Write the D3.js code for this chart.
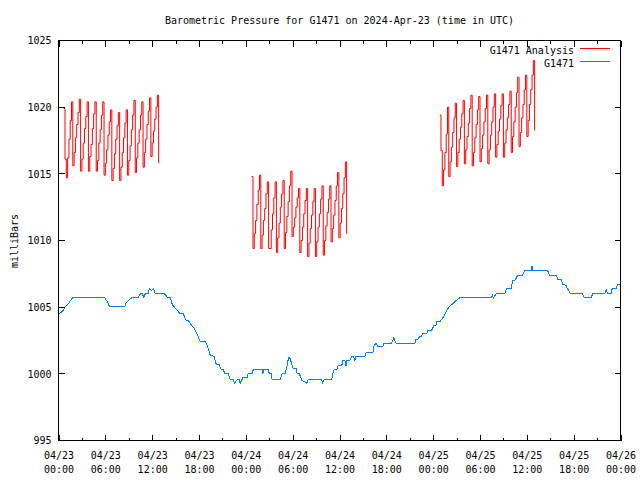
<!DOCTYPE html>
<html><head><meta charset="utf-8">
<script src="https://cdn.jsdelivr.net/npm/d3@7"></script>
<style>
body{margin:0;background:#fff}
text{font-family:"DejaVu Sans Mono","Liberation Mono",monospace;font-size:10px;fill:#000}
</style>
</head><body><svg id="c" width="640" height="480"></svg>
<script>
// ---------- data ----------
const chartTitle = "Barometric Pressure for G1471 on 2024-Apr-23 (time in UTC)";
const yAxisLabel = "milliBars";
const seriesNames = ["G1471 Analysis", "G1471"];
const yTickValues = [995, 1000, 1005, 1010, 1015, 1020, 1025];
const xDomain = ["2024-04-23T00:00:00Z", "2024-04-26T00:00:00Z"];

// Analysis runs: start time of each run and its values every 10 minutes
const analysisStarts = ["2024-04-23T00:40:00Z", "2024-04-24T00:45:00Z", "2024-04-25T00:50:00Z"];
const analysisStepMinutes = 10;
const analysisRun1 = [
  1019.9, 1016.1, 1014.7, 1016.2, 1017.6, 1019.0, 1020.4,
  1015.6, 1016.6, 1017.7, 1018.7, 1019.6, 1020.6,
  1015.2, 1016.1, 1017.3, 1018.4, 1019.3, 1020.4,
  1015.2, 1016.3, 1017.2, 1018.4, 1019.5, 1020.4,
  1015.2, 1016.0, 1017.3, 1018.3, 1019.4, 1020.4,
  1014.9, 1015.8, 1016.8, 1017.9, 1018.9, 1019.8,
  1014.5, 1015.4, 1016.5, 1017.6, 1018.6, 1019.6,
  1014.5, 1015.5, 1016.6, 1017.7, 1018.8, 1019.8,
  1014.9, 1016.0, 1017.1, 1018.3, 1019.4, 1020.5,
  1015.1, 1016.2, 1017.3, 1018.3, 1019.4, 1020.4,
  1015.5, 1016.6, 1017.6, 1018.7, 1019.7, 1020.7,
  1016.3, 1017.3, 1018.2, 1019.1, 1020.0, 1020.9,
  1015.8
];
const analysisRun2 = [
  1014.8, 1009.4, 1010.5, 1011.5, 1012.7, 1013.8, 1014.9,
  1009.4, 1010.4, 1011.5, 1012.4, 1013.5, 1014.4,
  1009.4, 1009.4, 1010.8, 1012.0, 1013.2, 1014.4,
  1009.1, 1010.2, 1011.3, 1012.5, 1013.5, 1014.5,
  1009.4, 1010.6, 1011.8, 1012.9, 1014.1, 1015.2,
  1010.3, 1011.0, 1011.7, 1012.5, 1013.2, 1013.9,
  1009.1, 1010.0, 1011.0, 1012.0, 1013.0, 1013.9,
  1008.8, 1009.8, 1010.9, 1011.9, 1012.9, 1013.9,
  1008.8, 1009.9, 1011.0, 1012.0, 1013.1, 1014.1,
  1008.9, 1010.0, 1011.1, 1012.1, 1013.1, 1014.1,
  1009.9, 1010.9, 1011.9, 1013.0, 1014.1, 1015.1,
  1010.2, 1011.3, 1012.4, 1013.5, 1014.7, 1015.9,
  1010.5
];
const analysisRun3 = [
  1019.4, 1016.75, 1014.1, 1015.3, 1016.6, 1018.0, 1020.0,
  1014.8, 1015.9, 1017.0, 1018.1, 1019.2, 1020.3,
  1015.55, 1016.6, 1017.6, 1018.5, 1019.5, 1020.5,
  1015.75, 1016.8, 1017.8, 1018.8, 1019.9, 1020.9,
  1015.6, 1016.6, 1017.7, 1018.7, 1019.8, 1020.8,
  1015.9, 1016.9, 1017.9, 1018.9, 1019.9, 1020.9,
  1015.75, 1016.8, 1017.9, 1018.9, 1020.0, 1021.0,
  1016.25, 1017.2, 1018.2, 1019.1, 1020.1, 1021.0,
  1016.25, 1017.3, 1018.3, 1019.2, 1020.2, 1021.2,
  1016.6, 1017.8, 1018.9, 1020.0, 1021.1, 1022.25,
  1017.05, 1018.1, 1019.2, 1020.2, 1021.3, 1022.4,
  1017.8, 1019.0, 1020.2, 1021.3, 1022.4, 1023.5,
  1018.25
];

// Station observations: hours since 04/23 00:00 UTC and pressure
const stationHours = [
  0.0, 0.26, 0.51, 0.9, 1.28, 1.53, 1.79, 5.92, 6.27, 6.52, 8.48, 8.66, 8.95, 9.46, 10.23, 10.49,
  10.74, 10.91, 11.13, 11.51, 11.64, 11.89, 12.19, 12.4, 13.59, 13.94, 14.32, 14.58, 15.22, 15.6,
  15.99, 16.37, 16.63, 17.1, 17.39, 17.74, 18.16, 18.8, 19.06, 19.44, 19.95, 20.21, 20.59, 20.85,
  21.1, 21.36, 21.74, 22.0, 22.38, 22.55, 22.89, 23.15, 23.28, 23.49, 23.66, 24.17, 24.3, 24.81,
  24.94, 26.09, 26.18, 26.3, 26.86, 27.02, 27.24, 27.37, 28.39, 28.65, 29.03, 29.25, 29.48, 29.6,
  29.89, 30.05, 30.44, 30.56, 30.82, 31.2, 31.59, 31.8, 31.97, 33.72, 33.85, 34.02, 35.0, 35.13,
  35.3, 35.64, 35.81, 36.28, 36.45, 36.7, 36.83, 36.96, 37.34, 37.56, 37.76, 37.98, 38.11, 39.26,
  39.39, 40.28, 40.41, 40.67, 40.92, 41.56, 41.69, 42.68, 42.97, 43.23, 45.66, 45.78, 46.04, 46.29,
  46.51, 46.64, 47.15, 47.32, 47.79, 47.92, 48.09, 48.34, 48.47, 48.85, 49.24, 49.62, 50.0, 50.39,
  50.77, 51.15, 51.41, 55.46, 55.59, 55.72, 55.89, 56.1, 57.17, 57.29, 57.42, 58.02, 58.19, 58.45,
  58.57, 58.83, 59.47, 59.72, 60.58, 60.66, 60.75, 62.66, 62.92, 63.78, 63.94, 64.42, 64.58, 65.06,
  65.22, 65.35, 65.57, 67.14, 67.4, 68.25, 68.42, 69.95, 70.17, 70.34, 70.81, 70.94, 71.45, 71.61, 72.0
];
const stationPressure = [
  1004.43, 1004.6, 1004.68, 1005.05, 1005.25, 1005.5, 1005.7, 1005.7, 1005.4, 1005.05, 1005.05, 1005.3, 1005.5, 1005.75, 1005.75, 1006.0,
  1006.0, 1005.75, 1006.0, 1006.0, 1006.4, 1006.25, 1006.4, 1006.0, 1006.0, 1005.75, 1005.75, 1005.2, 1004.75, 1004.5,
  1004.5, 1004.0, 1004.0, 1003.6, 1003.4, 1003.0, 1002.4, 1002.4, 1002.1, 1001.4, 1001.3, 1000.7, 1000.7, 1000.3,
  1000.3, 1000.0, 1000.0, 999.6, 999.6, 999.3, 999.55, 999.55, 999.3, 999.55, 999.75, 999.75, 1000.0, 1000.0,
  1000.3, 1000.3, 1000.0, 1000.3, 1000.3, 1000.0, 1000.0, 999.55, 999.55, 1000.0, 1000.0, 1000.5, 1001.25, 1001.25,
  1000.75, 1000.4, 1000.4, 1000.05, 1000.05, 999.5, 999.4, 999.3, 999.55, 999.55, 999.3, 999.55, 999.55, 1000.0,
  1000.3, 1000.3, 1000.6, 1000.6, 1001.0, 1001.0, 1000.6, 1001.0, 1001.0, 1001.3, 1001.3, 1001.0, 1001.3, 1001.3,
  1001.57, 1001.57, 1002.1, 1002.3, 1002.05, 1002.05, 1002.3, 1002.3, 1002.7, 1002.3, 1002.3, 1002.6, 1002.6, 1002.8,
  1002.8, 1003.0, 1003.0, 1003.25, 1003.25, 1003.4, 1003.6, 1003.6, 1003.9, 1003.9, 1004.2, 1004.6, 1005.0, 1005.2,
  1005.4, 1005.6, 1005.7, 1005.7, 1005.9, 1005.7, 1005.85, 1006.0, 1006.0, 1006.25, 1006.43, 1006.43, 1007.0, 1007.0,
  1007.1, 1007.4, 1007.4, 1007.75, 1007.75, 1008.07, 1007.75, 1007.75, 1007.4, 1007.4, 1007.1, 1007.1, 1006.7, 1006.65,
  1006.3, 1006.3, 1006.0, 1006.0, 1005.7, 1005.7, 1006.0, 1006.0, 1006.3, 1006.0, 1006.0, 1006.4, 1006.4, 1006.7, 1006.7
];
const seriesColors = ["#ff0000", "#0080ff"];

// ---------- chart ----------
const svg = d3.select("#c");
const L = 58.5, R = 620.5, T = 40.5, B = 440.5;
const t0 = new Date(xDomain[0]);
const x = d3.scaleUtc().domain(xDomain.map(d => new Date(d))).range([L, R]);
const y = d3.scaleLinear().domain([995, 1025]).range([B, T]);

// title
svg.append("text").attr("x", (L + R) / 2).attr("y", 24).attr("text-anchor", "middle").text(chartTitle);

// y label
svg.append("text").attr("transform", "translate(15,241) rotate(-90)")
  .attr("text-anchor", "middle").attr("dominant-baseline", "middle").text(yAxisLabel);

// clip
svg.append("clipPath").attr("id", "pc").append("rect")
  .attr("x", L).attr("y", T).attr("width", R - L).attr("height", B - T);

const runLine = d3.line().x(d => x(d.t)).y(d => y(d.v)).curve(d3.curveStepAfter);
const runs = [analysisRun1, analysisRun2, analysisRun3];
runs.forEach((vals, i) => {
  const s = new Date(analysisStarts[i]).getTime();
  const pts = vals.map((v, k) => ({ t: new Date(s + k * analysisStepMinutes * 60000), v }));
  svg.append("path").datum(pts).attr("d", runLine)
    .attr("fill", "none").attr("stroke", seriesColors[0]).attr("stroke-width", 1)
    .attr("clip-path", "url(#pc)");
});

const obsLine = d3.line().x(d => x(d.t)).y(d => y(d.v));
const obs = stationHours.map((h, k) => ({ t: new Date(t0.getTime() + h * 3600000), v: stationPressure[k] }));
svg.append("path").datum(obs).attr("d", obsLine)
  .attr("fill", "none").attr("stroke", seriesColors[1]).attr("stroke-width", 1)
  .attr("shape-rendering", "crispEdges")
  .attr("clip-path", "url(#pc)");

// axes
const fmtDate = d3.utcFormat("%m/%d"), fmtTime = d3.utcFormat("%H:%M");
const xMajor = x.ticks(d3.utcHour.every(6));
const xMinor = x.ticks(d3.utcHour.every(3)).filter(d => d.getUTCHours() % 6 !== 0);

const xAxis = svg.append("g").attr("transform", `translate(0,${B})`)
  .call(d3.axisBottom(x).tickValues(xMajor).tickSize(0).tickPadding(0).tickFormat(""));
xAxis.select(".domain").remove();
xAxis.selectAll(".tick").each(function (d) {
  const t = d3.select(this).append("text").attr("text-anchor", "middle").attr("fill", "#000")
    .style("font-family", '"DejaVu Sans Mono",monospace').style("font-size", "10px");
  t.append("tspan").attr("x", 0).attr("y", 18).text(fmtDate(d));
  t.append("tspan").attr("x", 0).attr("y", 32).text(fmtTime(d));
});

const yAxis = svg.append("g").attr("transform", `translate(${L},0)`)
  .call(d3.axisLeft(y).tickValues(yTickValues).tickSize(0).tickPadding(7).tickFormat(d3.format("d")));
yAxis.select(".domain").remove();
yAxis.selectAll("text").style("font-family", '"DejaVu Sans Mono",monospace').style("font-size", "10px").attr("fill", "#000");

// tick marks (inward, mirrored)
const tk = svg.append("g").attr("stroke", "#000").attr("stroke-width", 1).attr("shape-rendering", "crispEdges");
xMajor.forEach(d => {
  const px = Math.round(x(d)) + 0.5;
  tk.append("line").attr("x1", px).attr("x2", px).attr("y1", B).attr("y2", B - 6);
  tk.append("line").attr("x1", px).attr("x2", px).attr("y1", T).attr("y2", T + 6);
});
xMinor.forEach(d => {
  const px = Math.round(x(d)) + 0.5;
  tk.append("line").attr("x1", px).attr("x2", px).attr("y1", B).attr("y2", B - 3);
  tk.append("line").attr("x1", px).attr("x2", px).attr("y1", T).attr("y2", T + 3);
});
yTickValues.forEach(v => {
  const py = Math.round(y(v) - 0.5) + 0.5;
  tk.append("line").attr("x1", L).attr("x2", L + 6).attr("y1", py).attr("y2", py);
  tk.append("line").attr("x1", R).attr("x2", R - 6).attr("y1", py).attr("y2", py);
});

// border
svg.append("rect").attr("x", L).attr("y", T).attr("width", R - L).attr("height", B - T)
  .attr("fill", "none").attr("stroke", "#000").attr("stroke-width", 1).attr("shape-rendering", "crispEdges");

// legend
const legY = [50, 63];
seriesNames.forEach((n, i) => {
  svg.append("text").attr("x", 574).attr("y", legY[i] + 4).attr("text-anchor", "end").text(n);
  svg.append("line").attr("x1", 580).attr("x2", 610).attr("y1", legY[i] - 1.5).attr("y2", legY[i] - 1.5)
    .attr("stroke", seriesColors[i]).attr("stroke-width", 1).attr("shape-rendering", "crispEdges");
});
</script>
</body></html>
